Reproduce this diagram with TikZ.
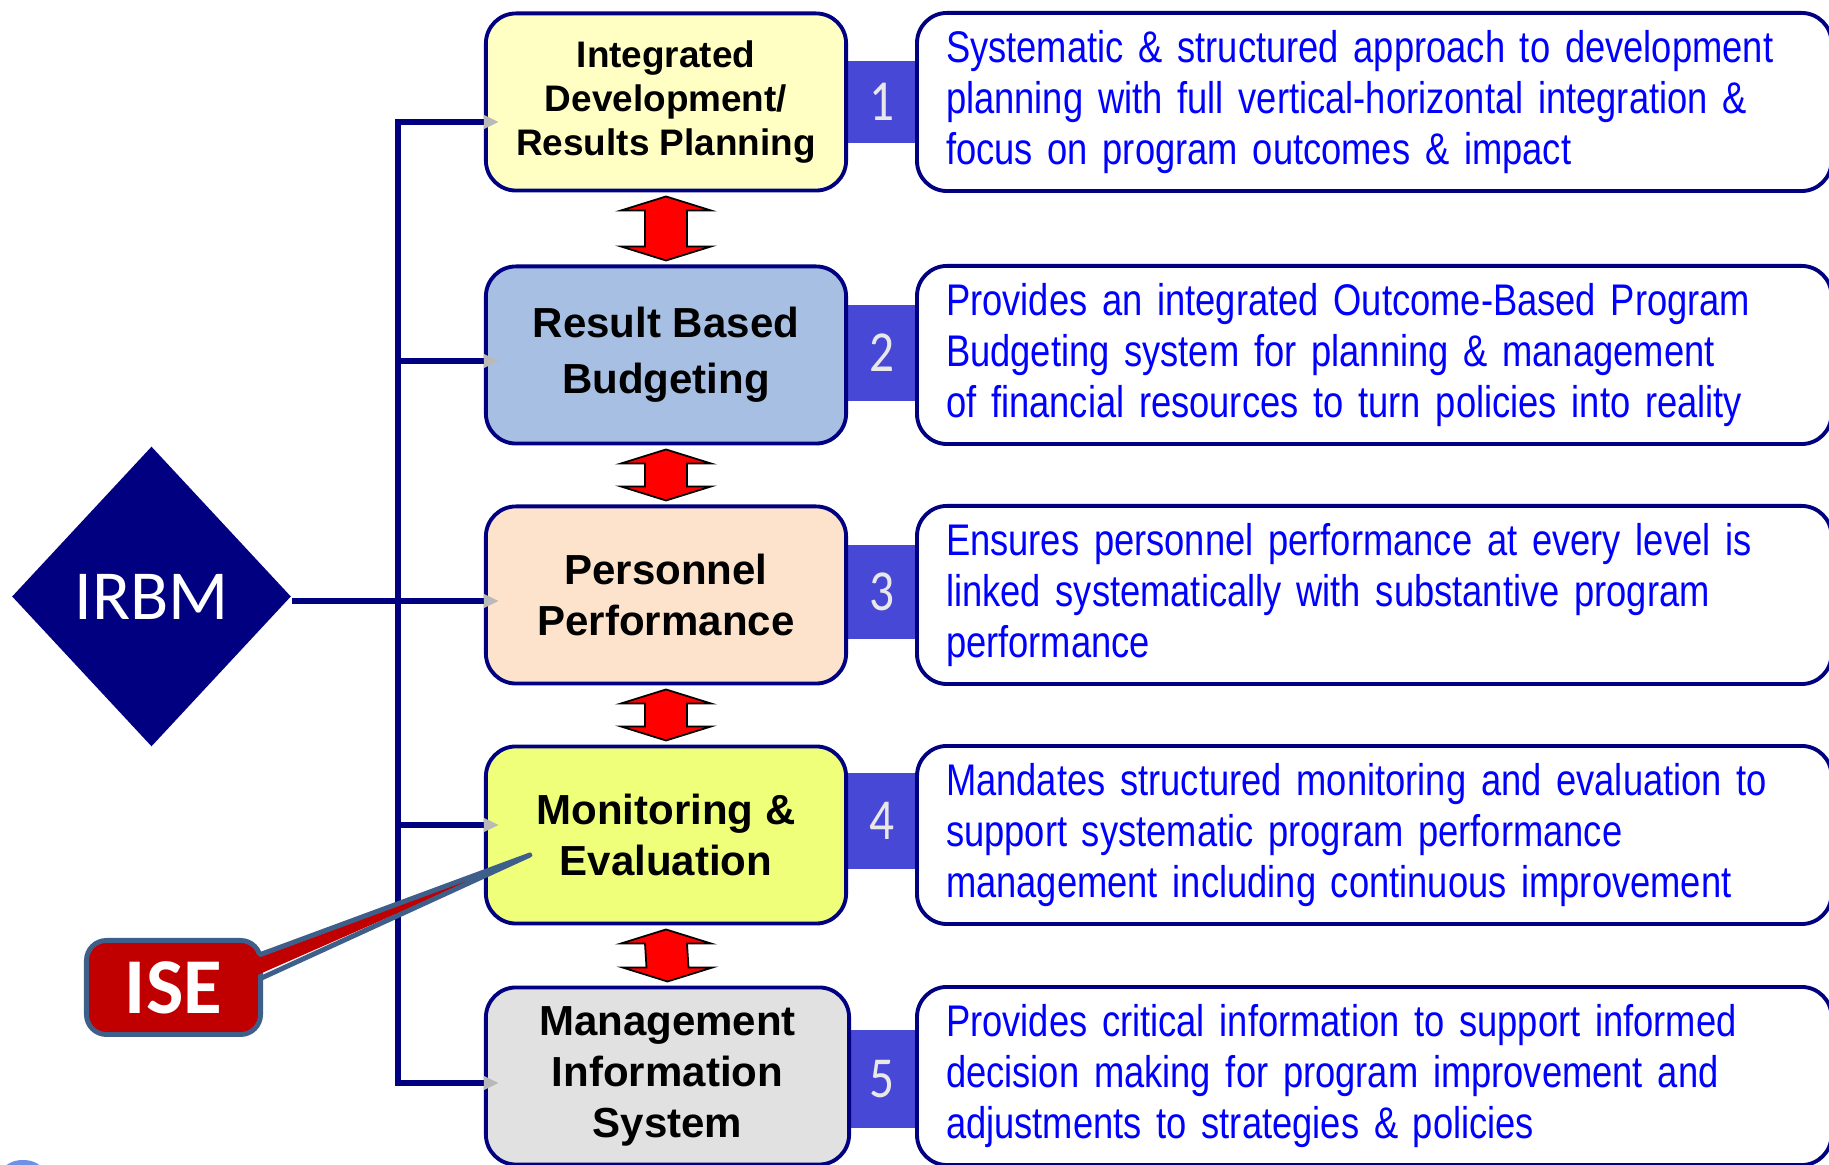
\documentclass[tikz,border=0pt]{standalone}
\usepackage{fontspec}
\setmainfont{Liberation Sans}
\newfontfamily\narrowfont[FakeStretch=0.82]{Liberation Sans}
\newfontfamily\calfont{Carlito}
\newfontfamily\digitfont[FakeStretch=0.85]{Carlito}
\usetikzlibrary{positioning,calc,shapes.geometric,arrows.meta}

\definecolor{navy}{RGB}{0,0,128}
\definecolor{tabblue}{RGB}{72,72,214}
\definecolor{planyellow}{RGB}{255,255,196}
\definecolor{budgetblue}{RGB}{167,191,226}
\definecolor{peach}{RGB}{253,227,203}
\definecolor{meyellow}{RGB}{240,255,122}
\definecolor{misgray}{RGB}{225,225,225}
\definecolor{isered}{RGB}{192,0,0}
\definecolor{steel}{RGB}{62,95,138}
\definecolor{digitgray}{RGB}{232,232,232}
\definecolor{logoblue}{RGB}{110,145,230}

\tikzset{
  pillar/.style={draw=navy, line width=1.1pt, rounded corners=0.3cm,
    minimum width=3.6cm, minimum height=1.77cm, inner sep=0pt, align=center,
    font=\fontsize{11.95}{14.5}\selectfont\bfseries},
  desc/.style={draw=navy, fill=white, line width=1.1pt, rounded corners=0.3cm,
    minimum height=1.78cm, text width=8.56cm, inner xsep=0.29cm, align=left,
    text=blue, font=\narrowfont\fontsize{12.6}{14.6}\selectfont},
  numtab/.style={fill=tabblue, minimum width=0.72cm, inner sep=0pt,
    text=digitgray, font=\digitfont\fontsize{16.5}{16.5}\selectfont},
  branch/.style={navy, line width=1.5pt,
    -{Triangle[length=4.3pt, width=3.7pt, color=gray!55]}},
  updown/.style={fill=red, draw=black, line width=0.5pt, line join=miter},
}

% red double arrow between two stacked boxes
\newcommand\updown[2]{%
  \coordinate (ut) at ($(#1.south)+(0,4)$);
  \coordinate (ub) at ($(#2.north)+(0,-4)$);
  \draw[updown] (ut) -- ++(45,14) -- ++(-24,0) -- ($(ub)+(21,-14)$) -- ++(24,0)
    -- (ub) -- ++(-45,-14) -- ++(24,0) -- ($(ut)+(-21,14)$) -- ++(-24,0) -- cycle;
}

\begin{document}
\begin{tikzpicture}[x=0.01cm, y=-0.01cm]
    \useasboundingbox (0,0) rectangle (1829,1165);
    \def\xl{666};
    \def\xt{882};

    % number tabs
    \node[numtab, minimum height=0.82cm] (t1) at (\xt, 102) {1};
    \node[numtab, minimum height=0.95cm] (t2) at (\xt, 353) {2};
    \node[numtab, minimum height=0.93cm] (t3) at (\xt, 592) {3};
    \node[numtab, minimum height=0.96cm] (t4) at (\xt, 821) {4};
    \node[numtab, minimum height=0.97cm] (t5) at (\xt, 1079) {5};

    % the five pillars
    \node[pillar, fill=planyellow, font=\fontsize{10.5}{12.5}\selectfont\bfseries] (b1) at (\xl, 102) {Integrated\\Development/\\Results Planning};
    \node[pillar, fill=budgetblue, font=\fontsize{11.95}{15.9}\selectfont\bfseries] (b2) at (\xl, 355) {Result Based\\Budgeting};
    \node[pillar, fill=peach] (b3) at (\xl, 595) {Personnel\\Performance};
    \node[pillar, fill=meyellow] (b4) at (\xl, 835) {Monitoring \&\\Evaluation};
    \node[pillar, fill=misgray, minimum width=3.63cm] (b5) at (\xl + 1.5, 1076) {Management\\Information\\System};

    % descriptions
    \node[desc, right=0.67cm of b1] (d1) {Systematic \& structured approach to development\\planning with full vertical-horizontal integration \&\\focus on program outcomes \& impact};
    \node[desc, right=0.67cm of b2] (d2) {Provides an integrated Outcome-Based Program\\Budgeting system for planning \& management\\of financial resources to turn policies into reality};
    \node[desc, right=0.67cm of b3] (d3) {Ensures personnel performance at every level is\\linked systematically with substantive program\\performance};
    \node[desc, right=0.67cm of b4] (d4) {Mandates structured monitoring and evaluation to\\support systematic program performance\\management including continuous improvement};
    \node[desc, right=0.64cm of b5] (d5) {Provides critical information to support informed\\decision making for program improvement and\\adjustments to strategies \& policies};

    \updown{b1}{b2}
    \updown{b2}{b3}
    \updown{b3}{b4}
    \updown{b4}{b5}

    % IRBM and the tree
    \node[diamond, fill=navy, minimum width=2.79cm, minimum height=3cm, inner sep=0pt,
      text=white, font=\calfont\fontsize{20}{20}\selectfont] (irbm) at (151.5, 596.5) {IRBM};

    \coordinate (tr) at (398, 0);
    \coordinate (e1) at ($(b1.west)+(15,20)$);
    \coordinate (e2) at ($(b2.west)+(15,6)$);
    \coordinate (e3) at ($(b3.west)+(15,6)$);
    \coordinate (e4) at ($(b4.west)+(15,-10)$);
    \coordinate (e5) at ($(b5.west)+(15,7)$);

    \draw[navy, line width=1.6pt, line cap=rect] (e1 -| tr) -- (e5 -| tr);
    \foreach \e in {e1, e2, e4, e5}
        \draw[branch] (\e -| tr) -- (\e);
    \draw[branch] (irbm.east |- e3) -- (e3);

    % ISE callout
    \node[fill=isered, draw=steel, line width=1.4pt, rounded corners=0.2cm,
      minimum width=1.74cm, minimum height=0.94cm, inner sep=0pt, text=white,
      font=\calfont\bfseries\fontsize{22.5}{22.5}\selectfont] (ise) at (173.5, 987.5) {ISE};
    \coordinate (isetip) at ($(b4.west)+(46,20)$);
    \fill[isered] ($(ise.east)+(-9,-31)$) -- (isetip) -- ($(ise.east)+(-9,-11)$) -- cycle;
    \draw[steel, line width=1.4pt, line cap=round, line join=round] ($(ise.east)+(-2.5,-33)$) -- (isetip) -- ($(ise.east)+(-2.5,-9)$);

    \fill[logoblue] (23, 1172) ellipse [x radius=0.2cm, y radius=0.12cm];
\end{tikzpicture}
\end{document}
